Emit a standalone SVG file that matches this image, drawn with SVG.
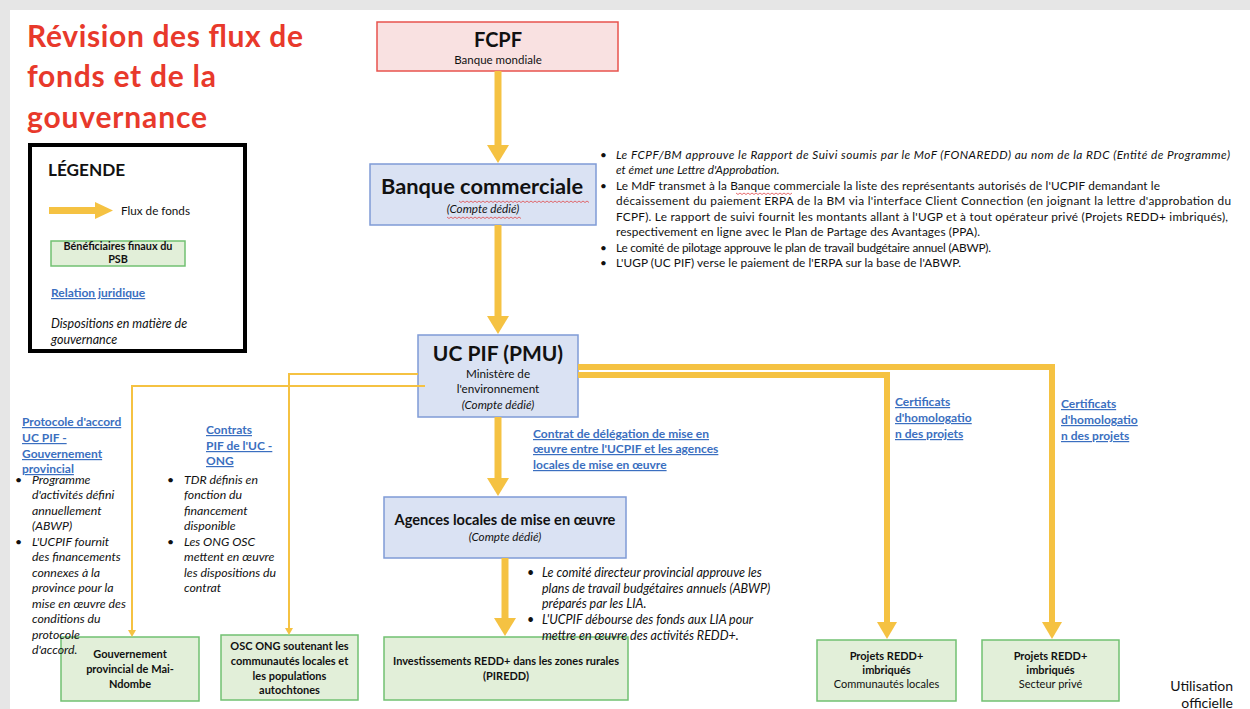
<svg xmlns="http://www.w3.org/2000/svg" width="1250" height="709" viewBox="0 0 1250 709">
<style>
text{font-family:Lato,"Liberation Sans",sans-serif;fill:#111}
.b{font-weight:bold}
.i{font-style:italic}
.c{text-anchor:middle}
.s{font-size:11.8px}
.l{font-size:12.3px}
.n{font-size:11px}
.lnk{font-size:12px;font-weight:bold;fill:#3b6fc0;text-decoration:underline}
.blue{fill:#dae2f3;stroke:#7f9bd6;stroke-width:1.5}
.green{fill:#e2efd9;stroke:#72c172;stroke-width:1.5}
.flow{fill:none;stroke:#f5c242}
.sq{fill:none;stroke:#e0484a;stroke-width:0.8}
</style>
<defs>
<marker id="mBig" markerUnits="userSpaceOnUse" markerWidth="20" markerHeight="24" refX="0" refY="12" orient="auto"><path d="M0,1 L18,12 L0,23 z" fill="#f5c242"/></marker>
<marker id="mMid" markerUnits="userSpaceOnUse" markerWidth="18" markerHeight="22" refX="0" refY="11" orient="auto"><path d="M0,1 L17,11 L0,21 z" fill="#f5c242"/></marker>
<marker id="mSmall" markerUnits="userSpaceOnUse" markerWidth="8" markerHeight="10" refX="0" refY="5" orient="auto"><path d="M0,1 L7,5 L0,9 z" fill="#f5c242"/></marker>
</defs>
<rect x="0" y="0" width="1250" height="709" fill="#e6e6e6"/>
<rect x="10" y="10" width="1240" height="699" fill="#ffffff"/>

<g id="title">
<text class="b" x="27" y="47" font-size="30" style="fill:#e8392b" textLength="276">Révision des flux de</text>
<text class="b" x="27" y="87" font-size="30" style="fill:#e8392b" textLength="189">fonds et de la</text>
<text class="b" x="27" y="128" font-size="30" style="fill:#e8392b" textLength="180">gouvernance</text>
</g>

<g id="legend">
<rect x="30" y="145" width="215" height="206" fill="#fff" stroke="#000" stroke-width="4"/>
<text class="b" x="48" y="176" font-size="17.2">LÉGENDE</text>
<polygon points="49,207 95,207 95,202 113,210.5 95,219 95,214 49,214" fill="#f5c242"/>
<text x="121" y="215" font-size="11.7">Flux de fonds</text>
<rect class="green" x="51" y="241" width="134" height="25"/>
<text class="b c" x="118" y="250" font-size="10.8">Bénéficiaires finaux du</text>
<text class="b c" x="118" y="263" font-size="10.8">PSB</text>
<text class="lnk" x="51" y="297">Relation juridique</text>
<text class="i" x="51" y="328" font-size="12.5">Dispositions en matière de</text>
<text class="i" x="51" y="344" font-size="12.5">gouvernance</text>
</g>

<g id="fcpf">
<rect x="377" y="22" width="241" height="49" fill="#f9e1e1" stroke="#e8534d" stroke-width="1.5"/>
<text class="b c" x="498" y="47" font-size="20">FCPF</text>
<text class="c" x="498" y="64" font-size="11.5">Banque mondiale</text>
</g>

<g id="banque">
<rect class="blue" x="370" y="164" width="226" height="61"/>
<text class="b c" x="482" y="194" font-size="21.8">Banque commerciale</text>
<text class="i c" x="483" y="213" font-size="11.7">(Compte dédié)</text>
</g>

<g id="ucpif">
<rect class="blue" x="418" y="335" width="160" height="82"/>
<text class="b c" x="498" y="361" font-size="21">UC PIF (PMU)</text>
<text class="c" x="498" y="378" font-size="11.7">Ministère de</text>
<text class="c" x="498" y="393" font-size="11.7">l'environnement</text>
<text class="i c" x="498" y="409" font-size="11.7">(Compte dédié)</text>
</g>

<g id="agences">
<rect class="blue" x="384" y="497" width="242" height="61"/>
<text class="b c" x="505" y="525" font-size="14.6">Agences locales de mise en œuvre</text>
<text class="i c" x="505" y="541" font-size="11.7">(Compte dédié)</text>
</g>

<g id="piredd">
<rect class="green" x="384" y="637" width="244" height="63"/>
<text class="b c n" x="506" y="665">Investissements REDD+ dans les zones rurales</text>
<text class="b c n" x="506" y="680">(PIREDD)</text>
</g>

<g id="gouv">
<rect class="green" x="61" y="637" width="138" height="64"/>
<text class="b c n" x="130" y="658">Gouvernement</text>
<text class="b c n" x="130" y="673">provincial de Mai-</text>
<text class="b c n" x="130" y="688">Ndombe</text>
</g>

<g id="osc">
<rect class="green" x="221" y="635" width="137" height="65"/>
<text class="b c n" x="289.5" y="650">OSC ONG soutenant les</text>
<text class="b c n" x="289.5" y="665">communautés locales et</text>
<text class="b c n" x="289.5" y="680">les populations</text>
<text class="b c n" x="289.5" y="694">autochtones</text>
</g>

<g id="projets-cl">
<rect class="green" x="817" y="640" width="139" height="61"/>
<text class="b c n" x="886.5" y="660">Projets REDD+</text>
<text class="b c n" x="886.5" y="674">imbriqués</text>
<text class="c n" x="886.5" y="688">Communautés locales</text>
</g>

<g id="projets-sp">
<rect class="green" x="982" y="640" width="137" height="61"/>
<text class="b c n" x="1050.5" y="660">Projets REDD+</text>
<text class="b c n" x="1050.5" y="674">imbriqués</text>
<text class="c n" x="1050.5" y="688">Secteur privé</text>
</g>

<g id="connectors">
<line class="flow" x1="498" y1="71" x2="498" y2="145" stroke-width="7" marker-end="url(#mBig)"/>
<line class="flow" x1="498" y1="225" x2="498" y2="316" stroke-width="7" marker-end="url(#mBig)"/>
<line class="flow" x1="498" y1="417" x2="498" y2="478" stroke-width="7" marker-end="url(#mBig)"/>
<line class="flow" x1="505" y1="558" x2="505" y2="618" stroke-width="7" marker-end="url(#mBig)"/>
<path class="flow" d="M578,367 H1052 V622" stroke-width="6" marker-end="url(#mMid)"/>
<path class="flow" d="M578,375 H887 V622" stroke-width="6" marker-end="url(#mMid)"/>
<path class="flow" d="M418,374 H289 V628" stroke-width="2" marker-end="url(#mSmall)"/>
<path class="flow" d="M425,386 H132 V630" stroke-width="2" marker-end="url(#mSmall)"/>
</g>

<g id="notes-top" class="s">
<text x="600" y="159">•</text>
<text class="i" x="616" y="159" textLength="614">Le FCPF/BM approuve le Rapport de Suivi soumis par le MoF (FONAREDD) au nom de la RDC (Entité de Programme)</text>
<text class="i" x="616" y="174">et émet une Lettre d'Approbation.</text>
<text x="600" y="190">•</text>
<text x="616" y="190" textLength="544">Le MdF transmet à la Banque commerciale la liste des représentants autorisés de l'UCPIF demandant le</text>
<text x="616" y="205" textLength="615">décaissement du paiement ERPA de la BM via l'interface Client Connection (en joignant la lettre d'approbation du</text>
<text x="616" y="221" textLength="612">FCPF). Le rapport de suivi fournit les montants allant à l'UGP et à tout opérateur privé (Projets REDD+ imbriqués),</text>
<text x="616" y="236" textLength="364">respectivement en ligne avec le Plan de Partage des Avantages (PPA).</text>
<text x="600" y="252">•</text>
<text x="616" y="252" textLength="375">Le comité de pilotage approuve le plan de travail budgétaire annuel (ABWP).</text>
<text x="600" y="267">•</text>
<text x="616" y="267" textLength="345">L'UGP (UC PIF) verse le paiement de l'ERPA sur la base de l'ABWP.</text>
</g>

<g id="notes-agences" font-size="12.5">
<text x="527" y="577">•</text>
<text class="i" x="542" y="577">Le comité directeur provincial approuve les</text>
<text class="i" x="542" y="593">plans de travail budgétaires annuels (ABWP)</text>
<text class="i" x="542" y="608">préparés par les LIA.</text>
<text x="527" y="624">•</text>
<text class="i" x="542" y="624">L'UCPIF débourse des fonds aux LIA pour</text>
<text class="i" x="542" y="640">mettre en œuvre des activités REDD+.</text>
</g>

<g id="label-delegation">
<text class="lnk" x="533" y="438">Contrat de délégation de mise en</text>
<text class="lnk" x="533" y="453">œuvre entre l'UCPIF et les agences</text>
<text class="lnk" x="533" y="469">locales de mise en œuvre</text>
</g>

<g id="label-certif">
<text class="lnk" x="895" y="406">Certificats</text>
<text class="lnk" x="895" y="422">d'homologatio</text>
<text class="lnk" x="895" y="438">n des projets</text>
<text class="lnk" x="1061" y="408">Certificats</text>
<text class="lnk" x="1061" y="424">d'homologatio</text>
<text class="lnk" x="1061" y="440">n des projets</text>
</g>

<g id="label-protocole">
<text class="lnk" x="22" y="426">Protocole d'accord</text>
<text class="lnk" x="22" y="442">UC PIF -</text>
<text class="lnk" x="22" y="458">Gouvernement</text>
<text class="lnk" x="22" y="473">provincial</text>
</g>

<g id="notes-protocole" class="l">
<text x="15" y="484">•</text>
<text class="i" x="32" y="484">Programme</text>
<text class="i" x="32" y="499">d'activités défini</text>
<text class="i" x="32" y="515">annuellement</text>
<text class="i" x="32" y="530">(ABWP)</text>
<text x="15" y="546">•</text>
<text class="i" x="32" y="546">L'UCPIF fournit</text>
<text class="i" x="32" y="561">des financements</text>
<text class="i" x="32" y="577">connexes à la</text>
<text class="i" x="32" y="592">province pour la</text>
<text class="i" x="32" y="608">mise en œuvre des</text>
<text class="i" x="32" y="623">conditions du</text>
<text class="i" x="32" y="639">protocole</text>
<text class="i" x="32" y="654">d'accord.</text>
</g>

<g id="label-contrats">
<text class="lnk" x="206" y="434">Contrats</text>
<text class="lnk" x="206" y="450">PIF de l'UC -</text>
<text class="lnk" x="206" y="465">ONG</text>
</g>

<g id="notes-contrats" class="l">
<text x="167" y="484">•</text>
<text class="i" x="184" y="484">TDR définis en</text>
<text class="i" x="184" y="499">fonction du</text>
<text class="i" x="184" y="515">financement</text>
<text class="i" x="184" y="530">disponible</text>
<text x="167" y="546">•</text>
<text class="i" x="184" y="546">Les ONG OSC</text>
<text class="i" x="184" y="561">mettent en œuvre</text>
<text class="i" x="184" y="577">les dispositions du</text>
<text class="i" x="184" y="592">contrat</text>
</g>

<g id="spellcheck">
<path class="sq" d="M459,201 l2,1.5 l2,-1.5 l2,1.5 l2,-1.5 l2,1.5 l2,-1.5 l2,1.5 l2,-1.5 l2,1.5 l2,-1.5 l2,1.5 l2,-1.5 l2,1.5 l2,-1.5 l2,1.5 l2,-1.5 l2,1.5 l2,-1.5 l2,1.5 l2,-1.5 l2,1.5 l2,-1.5 l2,1.5 l2,-1.5 l2,1.5 l2,-1.5 l2,1.5 l2,-1.5 l2,1.5 l2,-1.5 l2,1.5 l2,-1.5 l2,1.5 l2,-1.5 l2,1.5 l2,-1.5 l2,1.5 l2,-1.5 l2,1.5 l2,-1.5 l2,1.5 l2,-1.5 l2,1.5 l2,-1.5 l2,1.5 l2,-1.5 l2,1.5 l2,-1.5 l2,1.5 l2,-1.5 l2,1.5 l2,-1.5 l2,1.5 l2,-1.5 l2,1.5 l2,-1.5 l2,1.5 l2,-1.5 l2,1.5 l2,-1.5 l2,1.5 l2,-1.5 l2,1.5 l2,-1.5 l2,1.5"/>
<path class="sq" d="M447,217 l2,1.5 l2,-1.5 l2,1.5 l2,-1.5 l2,1.5 l2,-1.5 l2,1.5 l2,-1.5 l2,1.5 l2,-1.5 l2,1.5 l2,-1.5 l2,1.5 l2,-1.5 l2,1.5 l2,-1.5 l2,1.5 l2,-1.5 l2,1.5 l2,-1.5 l2,1.5 l2,-1.5 l2,1.5 l2,-1.5 l2,1.5 l2,-1.5 l2,1.5 l2,-1.5 l2,1.5 l2,-1.5 l2,1.5 l2,-1.5 l2,1.5 l2,-1.5 l2,1.5 l2,-1.5 l2,1.5"/>
<path class="sq" d="M736,193 l2,1.5 l2,-1.5 l2,1.5 l2,-1.5 l2,1.5 l2,-1.5 l2,1.5 l2,-1.5 l2,1.5 l2,-1.5 l2,1.5 l2,-1.5 l2,1.5 l2,-1.5 l2,1.5 l2,-1.5 l2,1.5 l2,-1.5 l2,1.5 l2,-1.5 l2,1.5 l2,-1.5 l2,1.5 l2,-1.5 l2,1.5 l2,-1.5 l2,1.5 l2,-1.5"/>
</g>

<g id="footer">
<text x="1233" y="691" font-size="14" text-anchor="end">Utilisation</text>
<text x="1233" y="708" font-size="14" text-anchor="end">officielle</text>
</g>
</svg>
